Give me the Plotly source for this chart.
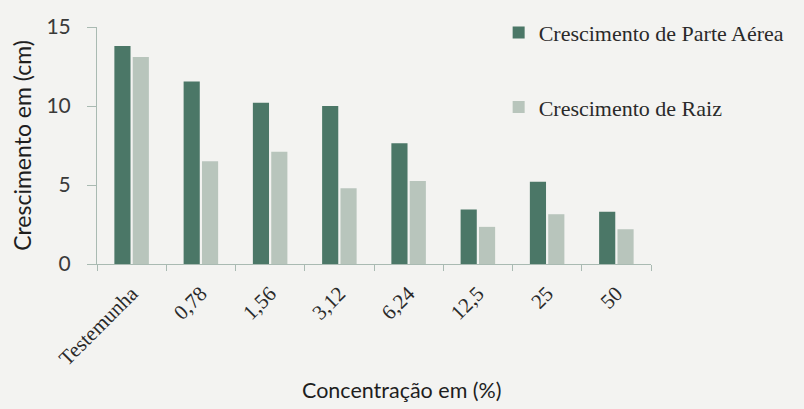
import plotly.graph_objects as go

categories = ["Testemunha", "0,78", "1,56", "3,12", "6,24", "12,5", "25", "50"]
parte_aerea = [13.8, 11.55, 10.2, 10.0, 7.65, 3.45, 5.2, 3.3]
raiz = [13.1, 6.5, 7.1, 4.8, 5.25, 2.35, 3.15, 2.2]
series_names = ["Crescimento de Parte Aérea", "Crescimento de Raiz"]
y_ticks = [0, 5, 10, 15]
x_title = "Concentração em (%)"
y_title = "Crescimento em (cm)"

dark = "#4b7767"
light = "#b8c5bc"
bg = "#f3f3f1"
axis_col = "#a9bab2"

fig = go.Figure()
fig.add_trace(go.Bar(x=categories, y=parte_aerea, name=series_names[0],
                     marker=dict(color=dark, line=dict(width=0)), legendgroup="a"))
fig.add_trace(go.Bar(x=categories, y=raiz, name=series_names[1],
                     marker=dict(color=light, line=dict(width=0)), legendgroup="b"))

fig.update_layout(
    width=804, height=409,
    margin=dict(l=97, r=153, t=24, b=145),
    paper_bgcolor=bg, plot_bgcolor=bg,
    barmode="group", bargap=0.47, bargroupgap=0.12,
    showlegend=True,
    legend=dict(x=0.725, y=1.065, xanchor="left", yanchor="top",
                bgcolor="rgba(0,0,0,0)", tracegroupgap=43,
                font=dict(family="Liberation Serif", size=22, color="#2a2a2a"),
                itemwidth=30),
    xaxis=dict(
        type="category", automargin=False,
        showline=True, linecolor=axis_col, linewidth=1,
        ticks="outside", tickson="boundaries", ticklen=6, tickcolor=axis_col,
        tickangle=-45, ticklabelstandoff=8,
        tickfont=dict(family="Liberation Serif", size=21, color="#2a2a2a"),
        showgrid=False,
    ),
    yaxis=dict(
        range=[0, 15], tickvals=y_ticks, automargin=False,
        showline=True, linecolor=axis_col, linewidth=1,
        ticks="outside", ticklen=9, tickcolor=axis_col,
        ticklabelstandoff=12,
        tickfont=dict(family="Lato", size=21, color="#3a3a3a"),
        showgrid=False, zeroline=False,
        title=dict(text=y_title,
                   font=dict(family="Lato", size=23, color="#1e1e1e"),
                   standoff=8),
    ),
    annotations=[dict(text=x_title, xref="paper", yref="paper",
                      x=0.55, y=-0.533, xanchor="center", yanchor="middle",
                      showarrow=False,
                      font=dict(family="Lato", size=21.5, color="#1e1e1e"))],
)

fig.write_html("out.html")
